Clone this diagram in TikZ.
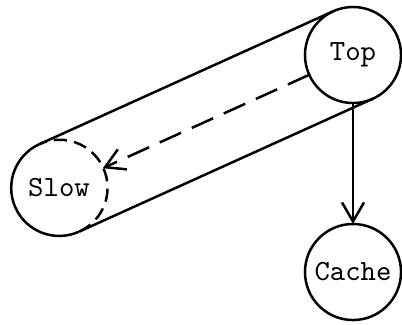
\documentclass[tikz,border=0pt]{standalone}
\usetikzlibrary{arrows.meta,positioning}

\begin{document}
\begin{tikzpicture}[x=0.012cm, y=-0.012cm, line width=0.85pt,
    every node/.style={font=\ttfamily},
    state/.style={circle,minimum size=1.152cm,inner sep=0pt,outer sep=0pt},
    >={Straight Barb[length=6.5pt,width=7.5pt]}]
  \useasboundingbox (0,0) rectangle (402,324);
  \node[state,draw] (top) at (353,55) {Top};
  \node[state] (slow) at (59,188) {Slow};
  \node[state,draw] (cache) at (353,272) {Cache};
  % near half of slow is solid, the far half is hidden inside the tube
  \draw (slow.114.3) arc[start angle=114.3, end angle=294.3, radius=0.576cm];
  \draw[dash pattern=on 4.5pt off 2.5pt] (slow.-65.7) arc[start angle=-65.7, end angle=114.3, radius=0.576cm];
  % sides of the tube
  \draw (slow.114.3) -- (top.114.3);
  \draw (slow.-65.7) -- (top.-65.7);
  \draw[->,dash pattern=on 8pt off 4pt] (top) -- (slow);
  \draw[->] (top) -- (cache);
\end{tikzpicture}
\end{document}
